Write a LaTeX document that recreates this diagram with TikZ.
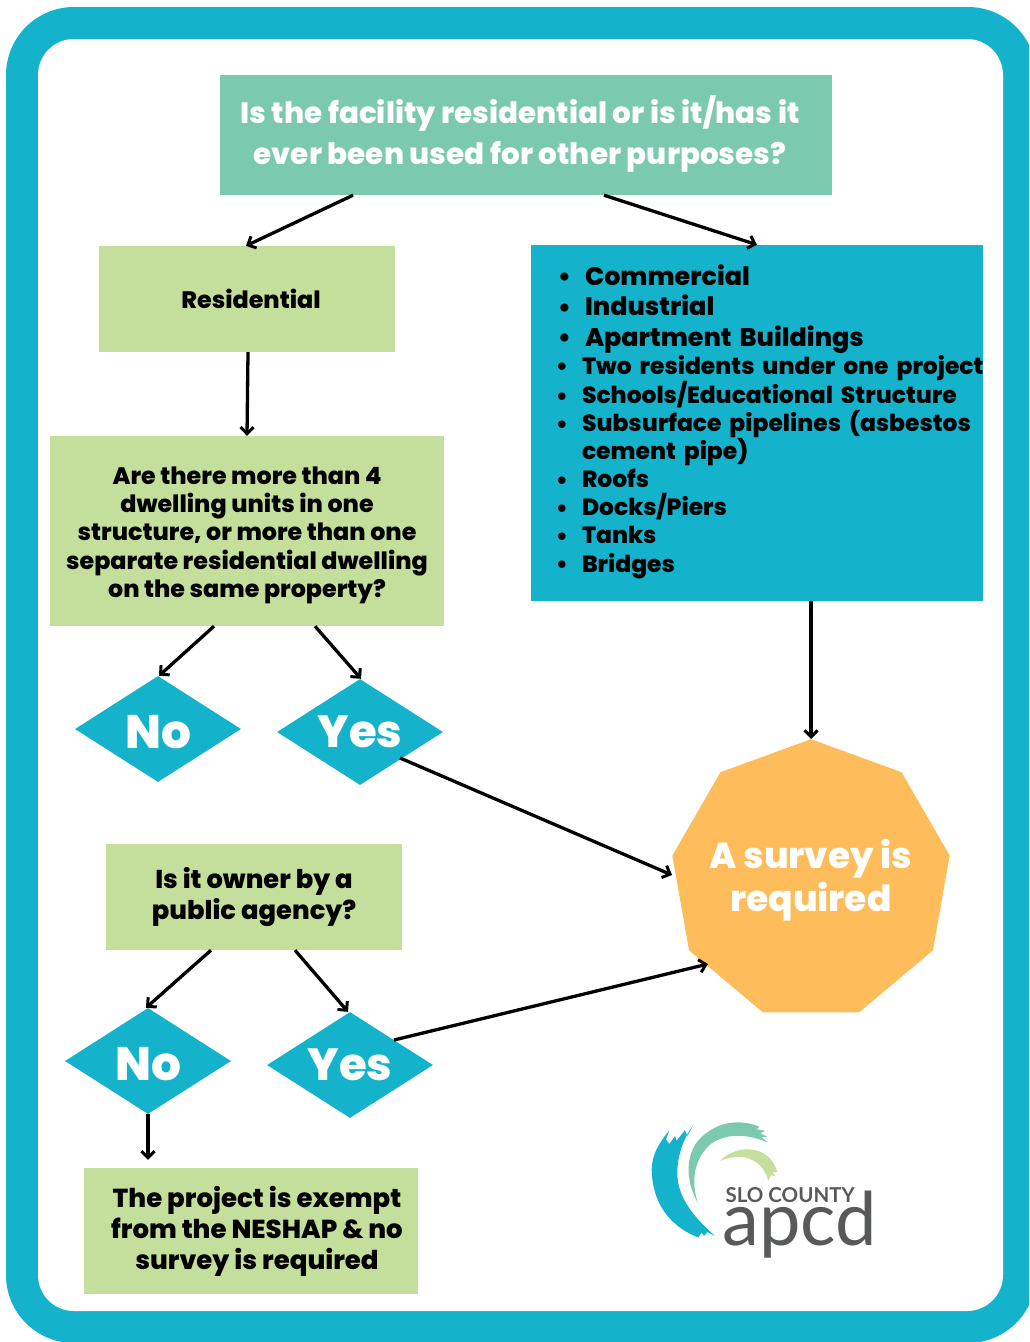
\documentclass[tikz,border=0pt]{standalone}
\usepackage{fontspec}
\setmainfont{Poppins}[BoldFont=* ExtraBold]
\newfontfamily\logofont{Lato}
\usetikzlibrary{arrows.meta,shapes.geometric}
\definecolor{teal1}{HTML}{14B3CB}
\definecolor{mint1}{HTML}{7BC9AE}
\definecolor{lime1}{HTML}{C4DF9B}
\definecolor{orange1}{HTML}{FFBC5A}
\definecolor{logogray}{HTML}{58595B}
\newcommand{\itm}[1]{\makebox[0pt][r]{\raisebox{-0.02em}{\textbullet}\hspace{14pt}}#1}
\tikzset{
 box/.style={rectangle,inner sep=0pt,align=center,font=\bfseries\fontsize{23.8}{28.4}\selectfont},
 limebox/.style={box,fill=lime1,text=black},
 dia/.style={diamond,fill=teal1,text=white,inner sep=0pt,minimum width=166pt,minimum height=106pt,aspect=1.566,font=\bfseries\fontsize{45}{50}\selectfont},
 conn/.style={draw=black,line width=3.3pt,-{Straight Barb[length=6.5pt,width=13pt,line width=3pt]}},
}
\begin{document}
\begin{tikzpicture}[x=1pt,y=-1pt]
\useasboundingbox (0,0) rectangle (1029,1342);
\begin{scope}
\clip (0,0) rectangle (1029,1342);
\fill[teal1,rounded corners=68pt] (6,7) rectangle (1036,1343);
\fill[white,rounded corners=36pt] (38,39) rectangle (1003,1311);
\end{scope}

\node[box,fill=mint1,text=white,minimum width=612pt,minimum height=120pt,font=\bfseries\fontsize{29.4}{41}\selectfont] (q) at (526,135) {Is the facility residential or is it/has it\hspace*{12pt}\\ever been used for other purposes?\hspace*{12pt}\rule[-11pt]{0pt}{1pt}};
\node[limebox,minimum width=296pt,minimum height=106pt] (res) at (247,299) {\hspace*{8pt}Residential};
\node[limebox,minimum width=394pt,minimum height=190pt] (are) at (247,531) {\rule{0pt}{26pt}Are there more than 4\\dwelling units in one\\structure, or more than one\\separate residential dwelling\\on the same property?};
\node[box,fill=teal1,text=black,minimum width=452pt,minimum height=356pt,text width=452pt,align=left] (oth) at (757,423) {%
\fontsize{25.4}{30.5}\selectfont
\hspace*{54pt}\itm{Commercial}\\
\hspace*{54pt}\itm{Industrial}\\
\hspace*{54pt}\itm{Apartment Buildings}\\[0pt]
\fontsize{23.4}{28}\selectfont
\hspace*{51pt}\itm{\makebox[0pt][l]{Two residents under one project}}\\
\hspace*{51pt}\itm{Schools/Educational Structure}\\
\hspace*{51pt}\itm{Subsurface pipelines (asbestos}\\
\hspace*{51pt}cement pipe)\\
\hspace*{51pt}\itm{Roofs}\\
\hspace*{51pt}\itm{Docks/Piers}\\
\hspace*{51pt}\itm{Tanks}\\
\hspace*{51pt}\itm{Bridges}\rule[-9pt]{0pt}{1pt}
};
\node[dia] (no1) at (158,729) {\rule{0pt}{39pt}\fontsize{47}{50}\selectfont No};
\node[dia] (yes1) at (360,732) {Yes};
\node[limebox,minimum width=296pt,minimum height=106pt,font=\bfseries\fontsize{25.8}{31}\selectfont] (pub) at (254,897) {Is it owner by a\\public agency?};
\node[dia] (no2) at (148,1061) {\rule{0pt}{39pt}\fontsize{47}{50}\selectfont No};
\node[dia] (yes2) at (350,1065) {Yes};
\node[limebox,minimum width=334pt,minimum height=126pt,font=\bfseries\fontsize{26}{31}\selectfont] (ex) at (251,1231) {\hspace*{12pt}The project is exempt\\\hspace*{12pt}from the NESHAP \& no\\\hspace*{12pt}survey is required};
\node[regular polygon,regular polygon sides=9,minimum size=281.6pt,inner sep=0pt,fill=orange1,
  label={[text=white,align=center,inner sep=0pt,font=\bfseries\fontsize{36}{43}\selectfont]center:A survey is\\required}] (surv) at (811,880) {};

\draw[conn] ([xshift=-173pt]q.south) -- ([xshift=-1pt]res.north);
\draw[conn] ([xshift=78pt]q.south) -- (oth.north);
\draw[conn] ([xshift=1pt]res.south) -- (are.north);
\draw[conn] ([xshift=-33pt]are.south) -- ([xshift=1pt]no1.north);
\draw[conn] ([xshift=68pt]are.south) -- ([xshift=1pt]yes1.north);
\draw[conn] ([xshift=54pt]oth.south) -- (surv.corner 1);
\draw[conn] ([shift={(40,26)}]yes1.center) -- ([shift={(-139,-5)}]surv.center);
\draw[conn] ([xshift=-43pt]pub.south) -- ([xshift=-2pt]no2.north);
\draw[conn] ([xshift=41pt]pub.south) -- ([xshift=-2pt]yes2.north);
\draw[conn] ([shift={(44,-25)}]yes2.center) -- ([shift={(-103,84)}]surv.center);
\draw[conn] ([xshift=0pt]no2.south) -- ([shift={(-103,-8)}]ex.north);

% logo
\begin{scope}[shift={(630,1100)},x=0.3333pt,y=-0.3333pt]
\fill[teal1] (190,75) -- (172,108) -- (165,90) -- (140,122) -- (135,108) -- (118,132) -- (108,118) -- (118,92)
  .. controls (80,135) and (60,180) .. (66,225)
  .. controls (72,320) and (130,385) .. (205,412)
  -- (215,398) -- (222,408) -- (232,396) -- (255,408)
  .. controls (190,350) and (140,290) .. (142,215)
  .. controls (143,165) and (160,115) .. (190,75) -- cycle;
\fill[mint1] (204,310)
  .. controls (160,230) and (165,140) .. (235,95)
  .. controls (280,62) and (340,60) .. (388,80)
  -- (380,88) -- (405,92) -- (392,100) -- (412,110) -- (395,112) -- (414,128)
  .. controls (350,100) and (290,100) .. (245,130)
  .. controls (195,170) and (180,240) .. (204,310) -- cycle;
\fill[lime1] (268,185)
  .. controls (310,140) and (380,135) .. (420,175)
  .. controls (430,187) and (436,198) .. (442,215)
  -- (428,218) -- (436,228) -- (422,226) -- (415,243)
  .. controls (405,205) and (380,180) .. (345,172)
  .. controls (320,168) and (290,172) .. (268,185) -- cycle;
\node[anchor=base west,inner sep=0pt,text=logogray,font=\logofont\bfseries\fontsize{20.5}{24}\selectfont] (slo) at (286,307) {SLO COUNTY};
\node[anchor=base west,inner sep=0pt,text=logogray,font=\logofont\fontsize{74}{76}\selectfont] (apcd) at (277,435) {apcd};
\end{scope}
\end{tikzpicture}
\end{document}
